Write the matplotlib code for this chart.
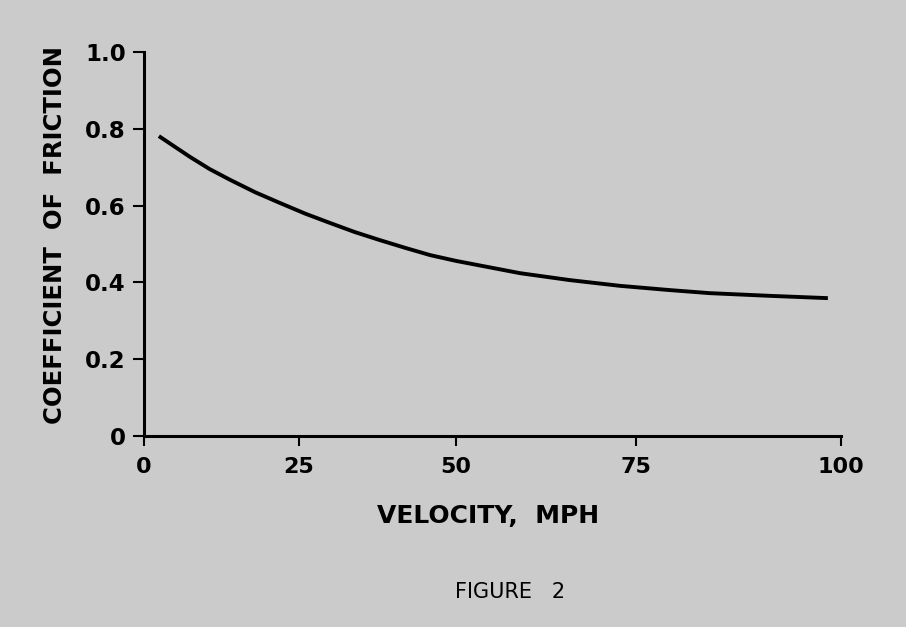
import numpy as np
import matplotlib.pyplot as plt

# values (velocity in mph, coefficient of friction)
velocity = [2.4, 7.4, 10.6, 13.9, 17.9, 21.9, 26.0, 29.9, 33.9, 37.9, 41.9, 45.9,
            50.0, 58.9, 65.8, 72.8, 79.1, 84.0, 91.3, 98.4]
friction = [0.781, 0.727, 0.695, 0.667, 0.635, 0.607, 0.579, 0.555, 0.531, 0.510, 0.490, 0.471,
            0.456, 0.424, 0.406, 0.391, 0.380, 0.372, 0.365, 0.359]

x_ticks = [0, 25, 50, 75, 100]
x_labels = ['0', '25', '50', '75', '100']
y_ticks = [0, 0.2, 0.4, 0.6, 0.8, 1.0]
y_labels = ['0', '0.2', '0.4', '0.6', '0.8', '1.0']

# the hand drawn axis has uneven tick spacing, reproduce it with a piecewise scale
tick_px = [0, 155, 312, 492, 697]


def fwd(v):
    return np.interp(v, x_ticks, tick_px)


def inv(p):
    return np.interp(p, tick_px, x_ticks)


bg = '#cbcbcb'
fig = plt.figure(figsize=(9.06, 6.27), dpi=100, facecolor=bg)
ax = fig.add_axes([144 / 906, 1 - 436 / 627, 697 / 906, 384 / 627])
ax.set_facecolor(bg)
ax.set_xscale('function', functions=(fwd, inv))

ax.plot(velocity, friction, color='black', linewidth=2.8, solid_capstyle='butt')

ax.set_xlim(0, 100)
ax.set_ylim(0, 1.0)
for side in ['top', 'right']:
    ax.spines[side].set_visible(False)
for side in ['left', 'bottom']:
    ax.spines[side].set_linewidth(2.2)

ax.set_xticks(x_ticks)
ax.set_xticklabels(x_labels, fontsize=16, fontweight='bold')
ax.set_yticks(y_ticks)
ax.set_yticklabels(y_labels, fontsize=16.5, fontweight='bold')
ax.xaxis.set_minor_locator(plt.NullLocator())
ax.tick_params(axis='x', direction='out', length=7, width=1.5, pad=8)
ax.tick_params(axis='y', direction='out', length=8, width=1.5, pad=5)

fig.text(55 / 906, 1 - 235 / 627, 'COEFFICIENT  OF  FRICTION', rotation=90,
         ha='center', va='center', fontsize=17.5, fontweight='bold')
fig.text(488 / 906, 1 - 516 / 627, 'VELOCITY,  MPH', ha='center', va='center',
         fontsize=18, fontweight='bold')
fig.text(510 / 906, 1 - 592 / 627, 'FIGURE   2', ha='center', va='center',
         fontsize=15)

fig.savefig('out.png', dpi=100, facecolor=bg)
